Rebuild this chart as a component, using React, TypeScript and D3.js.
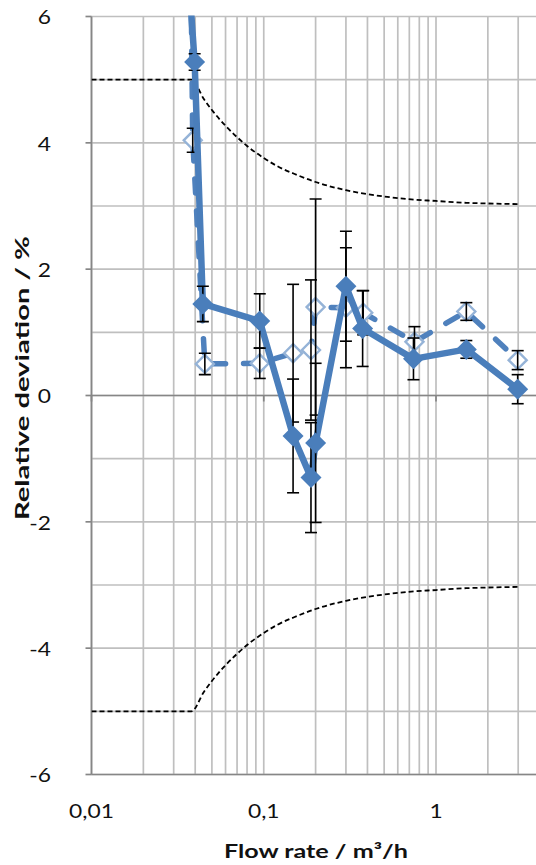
import React from "react";
import * as d3 from "d3";

// Chart frame
const W = 536;
const H = 865;
const PLOT = { left: 91.5, right: 536, top: 16.5, bottom: 774.5 };

// Axis ticks
const xMajorTicks = [0.01, 0.1, 1];
const xTickLabels = ["0,01", "0,1", "1"];
const yMajorTicks = [-6, -4, -2, 0, 2, 4, 6];
const yTickLabels = ["-6", "-4", "-2", "0", "2", "4", "6"];

// Series A: filled diamonds, solid line (flow rate m³/h, deviation %, ± uncertainty)
const flowA = [0.035, 0.0397, 0.0443, 0.0948, 0.148, 0.188, 0.2, 0.3, 0.375, 0.74, 1.5, 2.98];
const devA = [7.4, 5.28, 1.45, 1.18, -0.64, -1.3, -0.75, 1.73, 1.06, 0.58, 0.73, 0.1];
const errA = [0, 0.13, 0.28, 0.43, 0.9, 0.87, 1.26, 0.87, 0.6, 0.33, 0.14, 0.23];

// Series B: hollow diamonds, dashed line
const flowB = [0.037, 0.0387, 0.0455, 0.0948, 0.148, 0.188, 0.2, 0.3, 0.378, 0.75, 1.5, 2.98];
const devB = [9.0, 4.04, 0.5, 0.51, 0.67, 0.72, 1.4, 1.39, 1.31, 0.85, 1.33, 0.56];
const errB = [0, 0.19, 0.17, 0.24, 1.09, 1.11, 1.71, 0.95, 0.35, 0.24, 0.14, 0.15];

// Maximum permissible error envelope
const flowLimit = [0.01, 0.038, 0.045, 0.05, 0.06, 0.07, 0.08, 0.1, 0.12, 0.15, 0.2, 0.3, 0.5, 0.75, 1, 1.5, 2, 3];
const limitUpper = [5, 5, 4.69, 4.52, 4.27, 4.09, 3.95, 3.76, 3.63, 3.51, 3.38, 3.25, 3.15, 3.1, 3.08, 3.05, 3.04, 3.03];
const limitLower = [-5, -5, -4.69, -4.52, -4.27, -4.09, -3.95, -3.76, -3.63, -3.51, -3.38, -3.25, -3.15, -3.1, -3.08, -3.05, -3.04, -3.03];

const BLUE = "#4A7EBB";
const BLUE_DASH = "#4F81BD";
const BLUE_LIGHT = "#95B3D7";
const GRID = "#BFBFBF";
const AXIS = "#868686";
const FONT = "Lato, 'Open Sans', sans-serif";

const diamond = (r: number) => `M0,${-r}L${r},0L0,${r}L${-r},0Z`;

export default function App() {
  const x = d3.scaleLog().domain([0.01, 10]).range([PLOT.left, PLOT.left + 3 * 172.25]);
  const y = d3.scaleLinear().domain([-6, 6]).range([PLOT.bottom, PLOT.top]);

  const xGrid = x.ticks();
  const yGrid = d3.range(-6, 7, 1);

  type P = [number, number];
  const line = d3
    .line<P>()
    .x((d) => x(d[0]))
    .y((d) => y(d[1]));
  const smooth = d3
    .line<P>()
    .x((d) => x(d[0]))
    .y((d) => y(d[1]))
    .curve(d3.curveMonotoneX);

  const ptsA: P[] = flowA.map((q, i) => [q, devA[i]]);
  const ptsB: P[] = flowB.map((q, i) => [q, devB[i]]);
  const upper: P[] = flowLimit.map((q, i) => [q, limitUpper[i]]);
  const lower: P[] = flowLimit.map((q, i) => [q, limitLower[i]]);

  const errorBars = (flows: number[], devs: number[], errs: number[], key: string) =>
    flows.map((q, i) => {
      if (!errs[i]) return null;
      const cx = x(q);
      const y1 = y(devs[i] + errs[i]);
      const y2 = y(devs[i] - errs[i]);
      return (
        <g key={`${key}${i}`} stroke="#000" strokeWidth={1.6}>
          <line x1={cx} x2={cx} y1={y1} y2={y2} />
          <line x1={cx - 6} x2={cx + 6} y1={y1} y2={y1} />
          <line x1={cx - 6} x2={cx + 6} y1={y2} y2={y2} />
        </g>
      );
    });

  return (
    <svg
      width={W}
      height={H}
      viewBox={`0 0 ${W} ${H}`}
      style={{ position: "absolute", left: 0, top: 0, background: "#fff" }}
    >
      <defs>
        <clipPath id="plot-clip">
          <rect x={PLOT.left} y={PLOT.top - 1} width={PLOT.right - PLOT.left} height={PLOT.bottom - PLOT.top + 2} />
        </clipPath>
      </defs>
      <rect width={W} height={H} fill="#fff" />

      {/* gridlines */}
      <g stroke={GRID} strokeWidth={1.7}>
        {xGrid.map((v) => (
          <line key={`gx${v}`} x1={x(v)} x2={x(v)} y1={PLOT.top} y2={PLOT.bottom} />
        ))}
        {yGrid.map((v) => (
          <line key={`gy${v}`} x1={PLOT.left} x2={PLOT.right} y1={y(v)} y2={y(v)} />
        ))}
      </g>

      {/* axes */}
      <g stroke={AXIS} strokeWidth={1.7}>
        <line x1={PLOT.left} x2={PLOT.left} y1={PLOT.top} y2={PLOT.bottom} />
        {yMajorTicks.map((v) => (
          <line key={`ty${v}`} x1={PLOT.left - 6} x2={PLOT.left} y1={y(v)} y2={y(v)} />
        ))}
        <line x1={PLOT.left} x2={PLOT.right} y1={y(0)} y2={y(0)} />
        {xMajorTicks.map((v) => (
          <line key={`tx${v}`} x1={x(v)} x2={x(v)} y1={y(0)} y2={y(0) + 6} />
        ))}
        <line x1={PLOT.left} x2={PLOT.right} y1={PLOT.bottom} y2={PLOT.bottom} />
      </g>

      <g clipPath="url(#plot-clip)">
        {/* permissible error envelope */}
        <path d={smooth(upper) ?? ""} fill="none" stroke="#000" strokeWidth={1.8} strokeDasharray="5 3" />
        <path d={smooth(lower) ?? ""} fill="none" stroke="#000" strokeWidth={1.8} strokeDasharray="5 3" />

        {/* series B */}
        <path
          d={line(ptsB) ?? ""}
          fill="none"
          stroke={BLUE_DASH}
          strokeWidth={5.5}
          strokeLinecap="round"
          strokeLinejoin="round"
          strokeDasharray="14 18"
        />
        {ptsB.map((p, i) => (
          <path
            key={`mb${i}`}
            d={diamond(9)}
            transform={`translate(${x(p[0])},${y(p[1])})`}
            fill="#fff"
            stroke={BLUE_LIGHT}
            strokeWidth={2.4}
          />
        ))}
        {errorBars(flowB, devB, errB, "eb")}

        {/* series A */}
        <path
          d={line(ptsA) ?? ""}
          fill="none"
          stroke={BLUE}
          strokeWidth={6.5}
          strokeLinejoin="round"
          strokeLinecap="round"
        />
        {errorBars(flowA, devA, errA, "ea")}
        {ptsA.map((p, i) => (
          <path
            key={`ma${i}`}
            d={diamond(10.5)}
            transform={`translate(${x(p[0])},${y(p[1])})`}
            fill={BLUE}
          />
        ))}
      </g>

      {/* tick labels */}
      <g fontFamily={FONT} fontSize={19} fill="#111">
        {yMajorTicks.map((v, i) => (
          <g key={`ly${v}`} transform={`translate(51,${y(v)}) scale(1.2,1)`}>
            <text textAnchor="end" dominantBaseline="central">
              {yTickLabels[i]}
            </text>
          </g>
        ))}
        {xMajorTicks.map((v, i) => (
          <g key={`lx${v}`} transform={`translate(${x(v)},818) scale(1.2,1)`}>
            <text textAnchor="middle">{xTickLabels[i]}</text>
          </g>
        ))}
      </g>

      {/* axis titles */}
      <text
        x={316}
        y={858}
        textAnchor="middle"
        fontFamily={FONT}
        fontWeight="bold"
        fontSize={19}
        textLength={184}
        lengthAdjust="spacingAndGlyphs"
        fill="#111"
      >
        Flow rate / m³/h
      </text>
      <text
        transform="translate(29,378) rotate(-90)"
        textAnchor="middle"
        fontFamily={FONT}
        fontWeight="bold"
        fontSize={19}
        textLength={284}
        lengthAdjust="spacingAndGlyphs"
        fill="#111"
      >
        Relative deviation / %
      </text>
    </svg>
  );
}
